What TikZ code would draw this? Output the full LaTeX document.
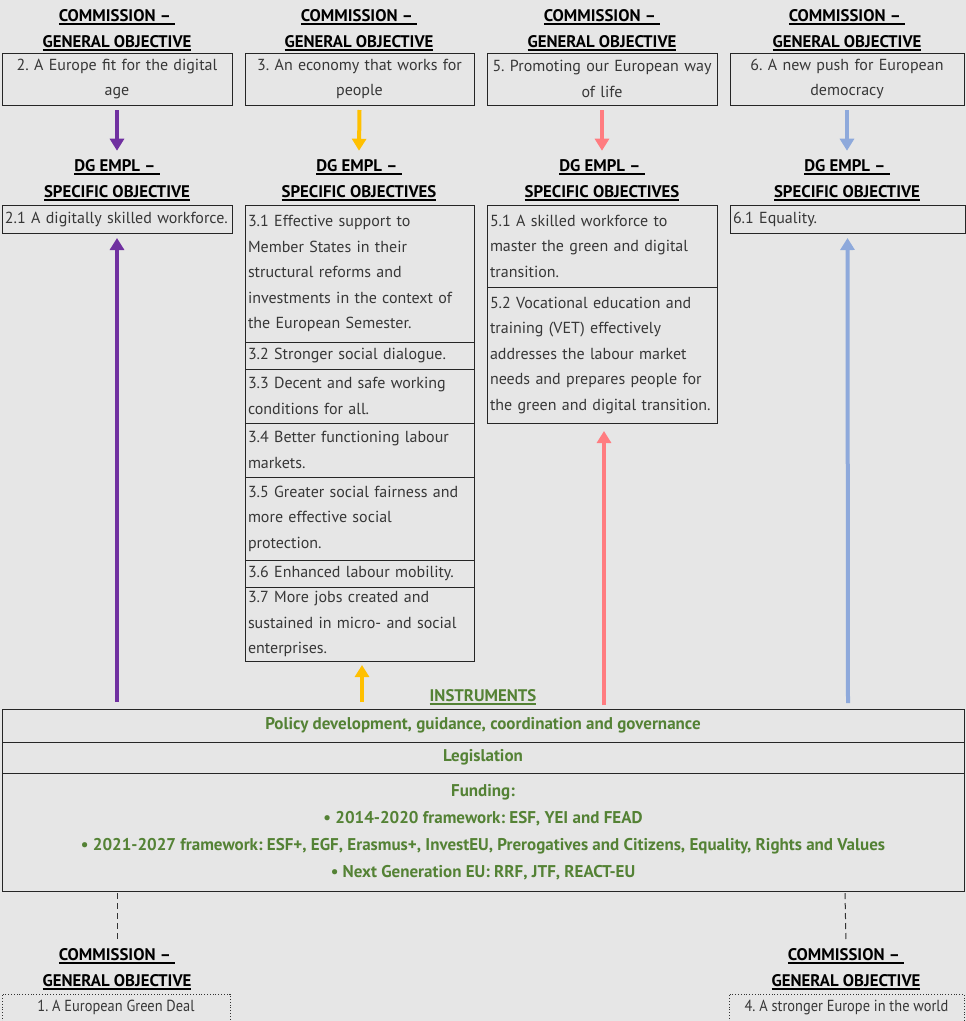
\documentclass[tikz,border=0pt]{standalone}
\usepackage{fontspec}
\setmainfont{PT Sans}
\newfontfamily\narrowf{PT Sans}[FakeStretch=0.9]
\usetikzlibrary{arrows.meta}
\definecolor{bg}{RGB}{230,230,230}
\definecolor{txt}{RGB}{55,55,55}
\definecolor{grn}{RGB}{84,130,53}
\definecolor{cpur}{RGB}{112,48,160}
\definecolor{cyel}{RGB}{255,192,0}
\definecolor{cpink}{RGB}{255,124,128}
\definecolor{cblue}{RGB}{142,169,219}
\newcommand\myul[1]{\setbox0\hbox{#1}\rlap{\rule[-3.5pt]{\wd0}{1.6pt}}\box0}
\frenchspacing
\begin{document}
\begin{tikzpicture}[x=1pt,y=-1pt,
  body/.style={font=\fontsize{16}{25.5}\selectfont, text=txt},
  frame/.style={draw=black!85, line width=0.9pt, inner xsep=3pt, inner ysep=0pt, outer sep=0pt},
  gobox/.style={frame, body, align=center, anchor=north west, minimum height=52},
  sobox/.style={frame, body, align=left},
  dotbox/.style={draw=black!80, dotted, line width=0.8pt, font=\narrowf\fontsize{16}{25.5}\selectfont, text=txt, inner xsep=0pt, inner ysep=0pt, outer sep=0pt, anchor=north west, minimum height=27},
  head/.style={font=\bfseries\fontsize{16.8}{26}\selectfont, text=black, align=center},
  instbox/.style={frame, font=\bfseries\fontsize{17}{27}\selectfont, text=grn, align=center, anchor=north west, minimum width=962},
  arr/.style={line width=4pt, -{Triangle[width=14pt,length=12pt]}}
]
\fill[bg] (0,0) rectangle (966,1021);
\useasboundingbox (0,0) rectangle (966,1021);

% top headers
\node[head] (h1) at (117,30) {\myul{COMMISSION –\ }\\\myul{GENERAL OBJECTIVE}};
\node[head] (h2) at (359,30) {\myul{COMMISSION –\ }\\\myul{GENERAL OBJECTIVE}};
\node[head] (h3) at (602,30) {\myul{COMMISSION –\ }\\\myul{GENERAL OBJECTIVE}};
\node[head] (h4) at (847,30) {\myul{COMMISSION –\ }\\\myul{GENERAL OBJECTIVE}};

% general objective boxes
\node[gobox, text width=224, minimum width=230] (go2) at (2,53) {2. A Europe fit for the digital\\age};
\node[gobox, text width=223, minimum width=229] (go3) at (245,53) {3. An economy that works for\\people};
\node[gobox, text width=224, minimum width=230] (go5) at (487,53) {5. Promoting our European way\\of life};
\node[gobox, text width=228, minimum width=234] (go6) at (730,53) {6. A new push for European\\democracy};

% DG EMPL headers
\node[head] (d1) at (117,180) {\myul{DG EMPL –\ }\\\myul{SPECIFIC OBJECTIVE}};
\node[head] (d2) at (359,180) {\myul{DG EMPL –\ }\\\myul{SPECIFIC OBJECTIVES}};
\node[head] (d3) at (602,180) {\myul{DG EMPL –\ }\\\myul{SPECIFIC OBJECTIVES}};
\node[head] (d4) at (847,180) {\myul{DG EMPL –\ }\\\myul{SPECIFIC OBJECTIVE}};

% down arrows
\draw[arr, cpur] ([yshift=-5]go2.south) -- ([yshift=5]d1.north);
\draw[arr, cyel] ([yshift=-5]go3.south) -- ([yshift=5]d2.north);
\draw[arr, cpink] ([yshift=-5]go5.south) -- ([yshift=5]d3.north);
\draw[arr, cblue] ([yshift=-5]go6.south) -- ([yshift=5]d4.north);

% specific objective boxes
\node[sobox, anchor=north west, text width=224, minimum width=230, minimum height=28] (s21) at (2,205) {2.1 A digitally skilled workforce.};

\node[sobox, anchor=north west, text width=223, minimum width=229, minimum height=137] (s31) at (245,205) {3.1 Effective support to\\Member States in their\\structural reforms and\\investments in the context of\\the European Semester.};
\node[sobox, anchor=north, text width=223, minimum width=229, minimum height=27] (s32) at (s31.south) {3.2 Stronger social dialogue.};
\node[sobox, anchor=north, text width=223, minimum width=229, minimum height=54] (s33) at (s32.south) {3.3 Decent and safe working\\conditions for all.};
\node[sobox, anchor=north, text width=223, minimum width=229, minimum height=54] (s34) at (s33.south) {3.4 Better functioning labour\\markets.};
\node[sobox, anchor=north, text width=223, minimum width=229, minimum height=83] (s35) at (s34.south) {3.5 Greater social fairness and\\more effective social\\protection.};
\node[sobox, anchor=north, text width=223, minimum width=229, minimum height=27] (s36) at (s35.south) {3.6 Enhanced labour mobility.};
\node[sobox, anchor=north, text width=223, minimum width=229, minimum height=74] (s37) at (s36.south) {3.7 More jobs created and\\sustained in micro- and social\\enterprises.};

\node[sobox, anchor=north west, text width=224, minimum width=230, minimum height=82] (s51) at (487,205) {5.1 A skilled workforce to\\master the green and digital\\transition.};
\node[sobox, anchor=north, text width=224, minimum width=230, minimum height=136] (s52) at (s51.south) {5.2 Vocational education and\\training (VET) effectively\\addresses the labour market\\needs and prepares people for\\the green and digital transition.};

\node[sobox, anchor=north west, text width=229, minimum width=235, minimum height=28] (s61) at (730,205) {6.1 Equality.};

% instruments
\node[font=\bfseries\fontsize{16.8}{26}\selectfont, text=grn] (ins) at (483,697) {\color{grn}\myul{INSTRUMENTS}};
\node[instbox, minimum height=33] (i1) at (2,709) {Policy development, guidance, coordination and governance};
\node[instbox, anchor=north, minimum height=31] (i2) at (i1.south) {Legislation};
\node[instbox, anchor=north, minimum height=118] (i3) at (i2.south) {Funding:\\• 2014-2020 framework: ESF, YEI and FEAD\\• 2021-2027 framework: ESF+, EGF, Erasmus+, InvestEU, Prerogatives and Citizens, Equality, Rights and Values\\• Next Generation EU: RRF, JTF, REACT-EU};

% up arrows
\coordinate (u1) at (117,702);
\coordinate (u2) at (362,702);
\coordinate (u3) at (604,705);
\coordinate (u4) at (848,703);
\draw[arr, cpur] (u1) -- ([yshift=-5]s21.south);
\draw[arr, cyel] (u2) -- ([xshift=2.5,yshift=-4]s37.south);
\draw[arr, cpink] (u3) -- ([xshift=2,yshift=-8]s52.south);
\draw[arr, cblue] (u4) -- ([yshift=-5]s61.south);

% bottom headers
\node[head] (b1) at (117,969) {\myul{COMMISSION –\ }\\\myul{GENERAL OBJECTIVE}};
\node[head] (b4) at (846,969) {\myul{COMMISSION –\ }\\\myul{GENERAL OBJECTIVE}};
\draw[line width=1pt, black!80, dash pattern=on 6pt off 4pt] (117,893) -- ([yshift=2]b1.north);
\draw[line width=1pt, black!80, dash pattern=on 6pt off 4pt] (845,893) -- ([yshift=2]b4.north);

\node[dotbox, minimum width=228] (g1) at (2,994) {1. A European Green Deal};
\node[dotbox, minimum width=235] (g4) at (729,994) {4. A stronger Europe in the world};
\end{tikzpicture}
\end{document}
